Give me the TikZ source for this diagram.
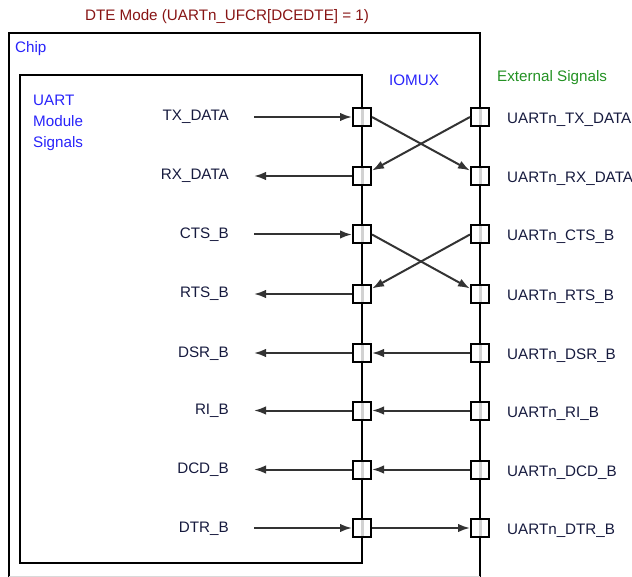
\documentclass[tikz,border=0pt]{standalone}
\usepackage{fontspec}
\setmainfont{Liberation Sans}
\usetikzlibrary{arrows.meta}
\definecolor{txt}{RGB}{22,26,62}
\definecolor{titlered}{RGB}{135,20,20}
\definecolor{lblue}{RGB}{40,35,250}
\definecolor{lgreen}{RGB}{35,145,35}
\begin{document}
\begin{tikzpicture}[x=1pt,y=-1pt,
  font=\fontsize{15.2}{18}\selectfont,
  boxline/.style={line width=2pt, draw=black},
  pad/.style={draw=black, line width=2pt, fill=white, minimum size=18pt, inner sep=0pt,
    path picture={\draw[gray!35,line width=3pt] (path picture bounding box.north) -- (path picture bounding box.south);}},
  sig/.style={-{Latex[length=12pt,width=8.5pt]}, line width=2pt, draw=black!80},
  lab/.style={text=txt, inner sep=0pt},
]
\useasboundingbox (0,0) rectangle (632,577);
% outer chip box
\draw[boxline] (9,577) -- (9,33) -- (480,33) -- (480,577);
\draw[gray!30, line width=0.6pt] (9,576) -- (480,576);
% inner UART box
\draw[boxline] (362,75) -- (20,75) -- (20,563) -- (362,563) -- cycle;

% texts
\node[text=titlered, anchor=base, inner sep=0pt] (title) at (227,21) {DTE Mode (UARTn\_UFCR[DCEDTE] = 1)};
\node[text=lblue, anchor=base west, inner sep=0pt] (chip) at (15,53) {Chip};
\node[text=lblue, anchor=base west, inner sep=0pt] (uart1) at (33,105.5) {UART};
\node[text=lblue, anchor=base west, inner sep=0pt] (uart2) at (33,126.5) {Module};
\node[text=lblue, anchor=base west, inner sep=0pt] (uart3) at (33,147.5) {Signals};
\node[text=lblue, anchor=base, inner sep=0pt] (iomux) at (414,85.5) {IOMUX};
\node[text=lgreen, anchor=base west, inner sep=0pt] (ext) at (497,81.5) {External Signals};

% rows
\foreach \i/\y/\ln/\rn in {1/117/TX\_DATA/UARTn\_TX\_DATA, 2/176/RX\_DATA/UARTn\_RX\_DATA,
  3/234.5/CTS\_B/UARTn\_CTS\_B, 4/294/RTS\_B/UARTn\_RTS\_B, 5/353/DSR\_B/UARTn\_DSR\_B,
  6/410.5/RI\_B/UARTn\_RI\_B, 7/469.5/DCD\_B/UARTn\_DCD\_B, 8/528/DTR\_B/UARTn\_DTR\_B}{
  \node[pad] (L\i) at (362,\y) {};
  \node[pad] (R\i) at (480,\y) {};
  \node[lab, anchor=base east] (ln\i) at (229,\y+4) {\ln};
  \node[lab, anchor=base west] (rn\i) at (507,\y+6.5) {\rn};
  \coordinate (E\i) at (254,\y);
}

% connectors
\draw[sig] (E1) -- (L1);
\draw[sig] (L2) -- (E2);
\draw[sig] (L1.east) -- (R2);
\draw[sig] (R1.west) -- (L2);
\draw[sig] (E3) -- (L3);
\draw[sig] (L4) -- (E4);
\draw[sig] (L3.east) -- (R4);
\draw[sig] (R3.west) -- (L4);
\foreach \i in {5,6,7}{
  \draw[sig] (R\i) -- (L\i);
  \draw[sig] (L\i) -- (E\i);
}
\draw[sig] (E8) -- (L8);
\draw[sig] (L8) -- (R8);
\end{tikzpicture}
\end{document}
